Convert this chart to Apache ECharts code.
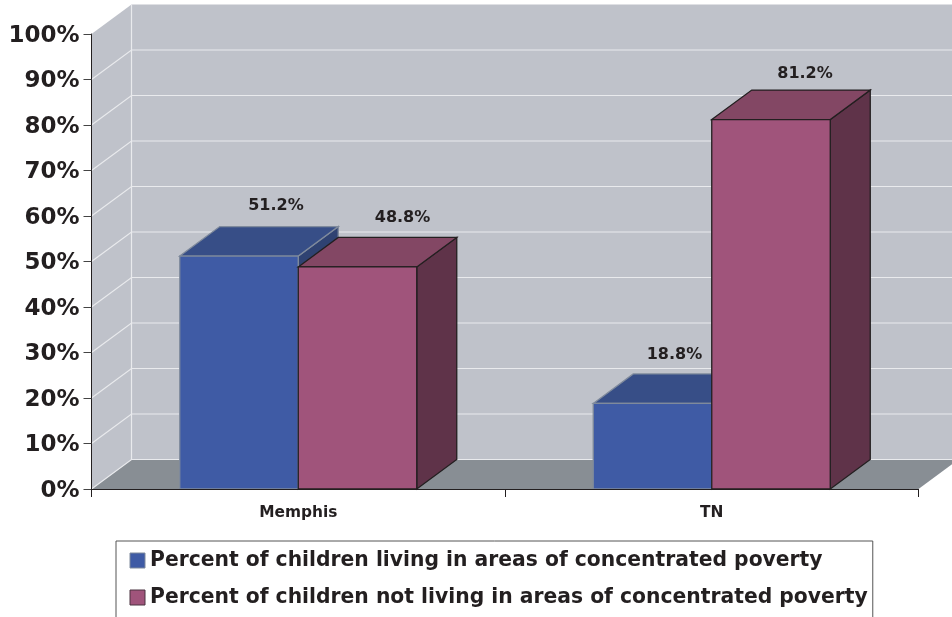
<!DOCTYPE html>
<html>
<head>
	<meta charset="UTF-8">
	<title>Children in concentrated poverty</title>
	<style>
		html, body { margin: 0; padding: 0; background: #fff; overflow: hidden; }
		#main { width: 952px; height: 617px; }
	</style>
</head>
<body>
<div id="main"></div>
<script src="https://cdn.jsdelivr.net/npm/echarts@6/dist/echarts.min.js"></script>
<script>
	var categories = ['Memphis', 'TN'];
	var seriesNames = [
		'Percent of children living in areas of concentrated poverty',
		'Percent of children not living in areas of concentrated poverty'
	];
	var livingIn = [51.2, 18.8];
	var notLivingIn = [48.8, 81.2];
	var tickValues = [0, 10, 20, 30, 40, 50, 60, 70, 80, 90, 100];

	// depth of the fake 3d box, in px
	var depthX = 40;
	var depthY = 29.5;
	var barRatio = 0.2866;
	var edgeWidth = 1.3;
	var textColor = '#231f20';
	var fontName = '"DejaVu Sans", sans-serif';

	var blue = { front: '#3f5ba5', top: '#374e87', side: '#2f4272', edge: '#7f8a9c' };
	var wine = { front: '#a0547b', top: '#834764', side: '#5f3349', edge: '#231f20' };

	function poly(points, fill, stroke) {
		return {
			type: 'polygon',
			shape: { points: points },
			style: { fill: fill, stroke: stroke || null, lineWidth: stroke ? edgeWidth : 0 }
		};
	}

	function renderWalls(params, api) {
		var sys = params.coordSys;
		var left = sys.x;
		var right = sys.x + sys.width;
		var bottom = sys.y + sys.height;
		var top = sys.y;
		var wall = '#bfc2ca';
		var line = '#e9eaed';
		var children = [
			poly([[left, bottom], [left, top], [left + depthX, top - depthY], [left + depthX, bottom - depthY]], wall),
			poly([[left + depthX, bottom - depthY], [left + depthX, top - depthY], [right + depthX, top - depthY], [right + depthX, bottom - depthY]], wall),
			poly([[left, bottom], [left + depthX, bottom - depthY], [right + depthX, bottom - depthY], [right, bottom]], '#888e94')
		];
		for (var i = 0; i < tickValues.length - 1; i++) {
			var y = api.coord([0, tickValues[i]])[1];
			children.push({
				type: 'polyline',
				shape: { points: [[left, y], [left + depthX, y - depthY], [right + depthX, y - depthY]] },
				style: { fill: null, stroke: line, lineWidth: 1.2 }
			});
		}
		children.push({
			type: 'line',
			shape: { x1: left + depthX, y1: top - depthY, x2: left + depthX, y2: bottom - depthY },
			style: { stroke: line, lineWidth: 1.2 }
		});
		return { type: 'group', children: children };
	}

	function barRenderer(colors, side, labelOffsets) {
		return function (params, api) {
			var base = api.coord([api.value(0), 0]);
			var head = api.coord([api.value(0), api.value(1)]);
			var w = api.size([1, 0])[0] * barRatio;
			var x1 = side < 0 ? base[0] - w : base[0];
			var x2 = x1 + w;
			var y0 = base[1];
			var y1 = head[1];
			var off = labelOffsets[params.dataIndex];
			return {
				type: 'group',
				children: [
					poly([[x2, y0], [x2, y1], [x2 + depthX, y1 - depthY], [x2 + depthX, y0 - depthY]], colors.side, colors.edge),
					poly([[x1, y1], [x1 + depthX, y1 - depthY], [x2 + depthX, y1 - depthY], [x2, y1]], colors.top, colors.edge),
					{
						type: 'rect',
						shape: { x: x1, y: y1, width: w, height: y0 - y1 },
						style: { fill: colors.front, stroke: colors.edge, lineWidth: edgeWidth }
					},
					{
						type: 'text',
						x: (x1 + x2) / 2 + off[0],
						y: y1 + off[1],
						style: {
							text: api.value(1).toFixed(1) + '%',
							fill: textColor,
							font: 'bold 16px ' + fontName,
							align: 'center',
							verticalAlign: 'middle'
						}
					}
				]
			};
		};
	}

	var myChart = echarts.init(document.getElementById('main'), null, { renderer: 'canvas' });
	var option = {
		animation: false,
		backgroundColor: '#ffffff',
		grid: { left: 91.5, top: 34, width: 827, height: 455 },
		legend: {
			left: 116,
			top: 541,
			height: 130,
			orient: 'vertical',
			padding: [9.5, 5, 40, 13.5],
			itemGap: 17,
			itemWidth: 15,
			itemHeight: 15,
			itemStyle: { borderWidth: 1 },
			borderColor: '#555555',
			borderWidth: 1,
			icon: 'rect',
			selectedMode: false,
			textStyle: { color: textColor, fontFamily: fontName, fontWeight: 'bold', fontSize: 20.32 },
			data: [
				{ name: seriesNames[0], itemStyle: { color: blue.front, borderColor: blue.edge, borderWidth: 1 } },
				{ name: seriesNames[1], itemStyle: { color: wine.front, borderColor: '#4a3340', borderWidth: 1 } }
			]
		},
		xAxis: {
			type: 'category',
			data: categories,
			z: 5,
			axisLine: { lineStyle: { color: textColor, width: 1 } },
			axisTick: { show: true, length: 8, lineStyle: { color: textColor } },
			axisLabel: { color: textColor, fontFamily: fontName, fontWeight: 'bold', fontSize: 15.4, margin: 16 }
		},
		yAxis: {
			type: 'value',
			min: 0,
			max: 100,
			interval: 10,
			z: 5,
			splitLine: { show: false },
			axisLine: { show: true, lineStyle: { color: textColor, width: 1 } },
			axisTick: { show: true, length: 8, lineStyle: { color: '#444444' } },
			axisLabel: { color: textColor, fontFamily: fontName, fontWeight: 'bold', fontSize: 23, margin: 12, verticalAlign: 'top', lineHeight: 4, formatter: '{value}%' }
		},
		series: [
			{
				type: 'custom',
				name: 'walls',
				silent: true,
				z: 1,
				renderItem: renderWalls,
				data: [[0, 0]]
			},
			{
				type: 'custom',
				name: seriesNames[0],
				z: 2,
				itemStyle: { color: blue.front },
				encode: { x: 0, y: 1 },
				renderItem: barRenderer(blue, -1, [[37, -50], [22, -49]]),
				data: livingIn.map(function (v, i) { return [i, v]; })
			},
			{
				type: 'custom',
				name: seriesNames[1],
				z: 3,
				itemStyle: { color: wine.front },
				encode: { x: 0, y: 1 },
				renderItem: barRenderer(wine, 1, [[45, -49], [34, -46]]),
				data: notLivingIn.map(function (v, i) { return [i, v]; })
			}
		]
	};
	myChart.setOption(option);
</script>
</body>
</html>
